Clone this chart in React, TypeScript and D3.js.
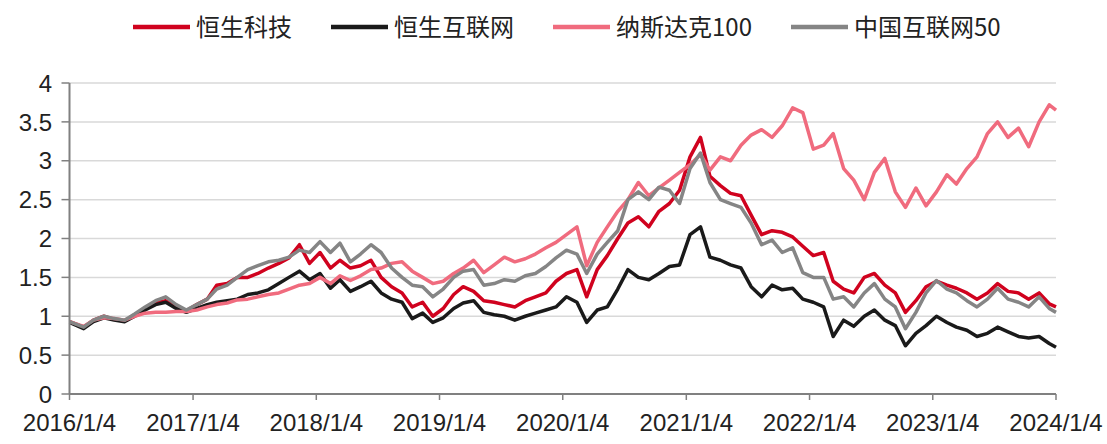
import React from "react";
import * as d3 from "d3";

const dates = [
  "2016-01-04","2016-02-15","2016-03-15","2016-04-15","2016-05-15","2016-06-15","2016-07-15","2016-08-15","2016-09-15","2016-10-15","2016-11-15","2016-12-15",
  "2017-01-15","2017-02-15","2017-03-15","2017-04-15","2017-05-15","2017-06-15","2017-07-15","2017-08-15","2017-09-15","2017-10-15","2017-11-15","2017-12-15",
  "2018-01-15","2018-02-15","2018-03-15","2018-04-15","2018-05-15","2018-06-15","2018-07-15","2018-08-15","2018-09-15","2018-10-15","2018-11-15","2018-12-15",
  "2019-01-15","2019-02-15","2019-03-15","2019-04-15","2019-05-15","2019-06-15","2019-07-15","2019-08-15","2019-09-15","2019-10-15","2019-11-15","2019-12-15",
  "2020-01-15","2020-02-15","2020-03-15","2020-04-15","2020-05-15","2020-06-15","2020-07-15","2020-08-15","2020-09-15","2020-10-15","2020-11-15","2020-12-15",
  "2021-01-15","2021-02-15","2021-03-15","2021-04-15","2021-05-15","2021-06-15","2021-07-15","2021-08-15","2021-09-15","2021-10-15","2021-11-15","2021-12-15",
  "2022-01-15","2022-02-15","2022-03-15","2022-04-15","2022-05-15","2022-06-15","2022-07-15","2022-08-15","2022-09-15","2022-10-15","2022-11-15","2022-12-15",
  "2023-01-15","2023-02-15","2023-03-15","2023-04-15","2023-05-15","2023-06-15","2023-07-15","2023-08-15","2023-09-15","2023-10-15","2023-11-15","2023-12-15",
  "2024-01-04",
];

const hstech = [
  0.93,0.86,0.95,1.0,0.96,0.94,1.02,1.1,1.17,1.2,1.12,1.07,
  1.15,1.22,1.4,1.42,1.5,1.5,1.55,1.62,1.68,1.75,1.92,1.68,
  1.82,1.62,1.72,1.62,1.65,1.72,1.5,1.38,1.3,1.12,1.18,1.0,
  1.1,1.28,1.38,1.32,1.2,1.18,1.15,1.12,1.2,1.25,1.3,1.45,
  1.55,1.6,1.25,1.6,1.78,2.0,2.2,2.28,2.15,2.35,2.45,2.62,
  3.05,3.3,2.8,2.68,2.58,2.55,2.3,2.05,2.1,2.08,2.02,1.9,
  1.78,1.82,1.45,1.35,1.3,1.5,1.55,1.4,1.3,1.05,1.2,1.38,
  1.45,1.4,1.36,1.3,1.22,1.3,1.42,1.32,1.3,1.22,1.3,1.16,
  1.12,
];

const hsInternet = [
  0.92,0.84,0.93,0.98,0.95,0.93,1.0,1.08,1.15,1.18,1.1,1.05,
  1.1,1.15,1.18,1.2,1.22,1.28,1.3,1.34,1.42,1.5,1.58,1.47,
  1.55,1.36,1.47,1.32,1.38,1.45,1.3,1.22,1.18,0.97,1.04,0.92,
  0.98,1.1,1.17,1.2,1.05,1.02,1.0,0.95,1.0,1.04,1.08,1.12,
  1.25,1.18,0.92,1.08,1.12,1.35,1.6,1.5,1.47,1.55,1.64,1.66,
  2.05,2.15,1.76,1.72,1.66,1.62,1.38,1.25,1.4,1.34,1.36,1.22,
  1.18,1.12,0.74,0.95,0.87,1.0,1.08,0.95,0.88,0.62,0.78,0.88,
  1.0,0.92,0.86,0.82,0.74,0.78,0.86,0.8,0.74,0.72,0.74,0.65,
  0.6,
];

const nasdaq100 = [
  0.93,0.87,0.95,0.98,0.97,0.95,1.0,1.04,1.05,1.05,1.06,1.06,
  1.08,1.12,1.15,1.17,1.21,1.22,1.25,1.28,1.3,1.35,1.4,1.42,
  1.5,1.42,1.52,1.46,1.52,1.6,1.62,1.68,1.7,1.58,1.5,1.42,
  1.45,1.55,1.62,1.72,1.56,1.66,1.76,1.7,1.74,1.8,1.88,1.95,
  2.05,2.15,1.65,1.95,2.15,2.35,2.5,2.72,2.55,2.65,2.75,2.85,
  2.95,3.08,2.88,3.05,3.0,3.2,3.33,3.4,3.3,3.45,3.68,3.62,
  3.15,3.2,3.35,2.9,2.75,2.5,2.85,3.03,2.6,2.4,2.65,2.42,
  2.6,2.82,2.7,2.9,3.05,3.35,3.5,3.3,3.42,3.18,3.5,3.72,
  3.65,
];

const china50 = [
  0.93,0.86,0.95,1.0,0.97,0.95,1.03,1.12,1.2,1.25,1.15,1.08,
  1.15,1.22,1.35,1.4,1.5,1.6,1.65,1.7,1.72,1.76,1.85,1.82,
  1.96,1.82,1.94,1.7,1.8,1.92,1.82,1.62,1.5,1.4,1.38,1.25,
  1.35,1.5,1.58,1.6,1.4,1.42,1.47,1.45,1.52,1.55,1.64,1.75,
  1.85,1.8,1.55,1.8,1.95,2.1,2.5,2.6,2.5,2.66,2.62,2.45,
  2.9,3.1,2.72,2.5,2.45,2.4,2.2,1.92,1.98,1.82,1.88,1.56,
  1.5,1.5,1.22,1.25,1.12,1.3,1.42,1.22,1.12,0.84,1.05,1.3,
  1.46,1.35,1.3,1.2,1.12,1.22,1.36,1.22,1.18,1.12,1.25,1.1,
  1.05,
];

const seriesNames = ["恒生科技", "恒生互联网", "纳斯达克100", "中国互联网50"];
const seriesColors = ["#D0021E", "#1A1A1A", "#F06B7E", "#858585"];
const seriesValues = [hstech, hsInternet, nasdaq100, china50];

const yTicks = [0, 0.5, 1, 1.5, 2, 2.5, 3, 3.5, 4];
const yTickLabels = ["0", "0.5", "1", "1.5", "2", "2.5", "3", "3.5", "4"];
const xTickDates = ["2016-01-04","2017-01-04","2018-01-04","2019-01-04","2020-01-04","2021-01-04","2022-01-04","2023-01-04","2024-01-04"];
const xTickLabels = ["2016/1/4","2017/1/4","2018/1/4","2019/1/4","2020/1/4","2021/1/4","2022/1/4","2023/1/4","2024/1/4"];

const W = 1107, H = 444;
const left = 69.5, right = 1056, top = 83, bottom = 394;
const FONT = "'Liberation Sans', Arial, sans-serif";
const CJK = "'Noto Sans CJK SC', 'Noto Sans', sans-serif";

export default function App() {
  const parse = d3.timeParse("%Y-%m-%d");
  const x = d3.scaleTime().domain([parse(xTickDates[0])!, parse(xTickDates[8])!]).range([left, right]);
  const y = d3.scaleLinear().domain([0, 4]).range([bottom, top]);
  const pts = dates.map((d) => parse(d)!);
  const line = d3.line<number>().x((_, i) => x(pts[i])).y((v) => y(v)).curve(d3.curveLinear);

  const legendX = [133, 331, 553, 791];

  return (
    <div style={{ position: "absolute", left: 0, top: 0 }}>
      <svg width={W} height={H} style={{ display: "block", background: "#fff" }}>
        {yTicks.slice(1).map((t) => (
          <line key={t} x1={left} x2={right} y1={y(t)} y2={y(t)} stroke="#D9D9D9" strokeWidth={1.5} />
        ))}
        {seriesValues.map((vals, i) => (
          <path key={i} d={line(vals) || ""} fill="none" stroke={seriesColors[i]} strokeWidth={3.5} strokeLinejoin="round" />
        ))}
        <line x1={left} x2={left} y1={top} y2={bottom} stroke="#808080" strokeWidth={2} />
        <line x1={left} x2={right} y1={bottom} y2={bottom} stroke="#808080" strokeWidth={2} />
        {yTicks.map((t, i) => (
          <g key={t}>
            <line x1={left - 8} x2={left} y1={y(t)} y2={y(t)} stroke="#808080" strokeWidth={1.5} />
            <text x={52} y={y(t)} dy="0.36em" textAnchor="end" fontFamily={FONT} fontSize={24} fill="#222">{yTickLabels[i]}</text>
          </g>
        ))}
        {xTickDates.map((d, i) => {
          const px = x(parse(d)!);
          return (
            <g key={d}>
              <line x1={px} x2={px} y1={bottom} y2={bottom + 6} stroke="#808080" strokeWidth={1.5} />
              <text x={px} y={431} textAnchor="middle" fontFamily={FONT} fontSize={24} fill="#222">{xTickLabels[i]}</text>
            </g>
          );
        })}
        {seriesNames.map((n, i) => (
          <g key={n}>
            <line x1={legendX[i]} x2={legendX[i] + 57} y1={27} y2={27} stroke={seriesColors[i]} strokeWidth={4.5} />
            <text x={legendX[i] + 63} y={27} dy="0.36em" fontFamily={CJK} fontSize={24} fill="#222">{n}</text>
          </g>
        ))}
      </svg>
    </div>
  );
}
